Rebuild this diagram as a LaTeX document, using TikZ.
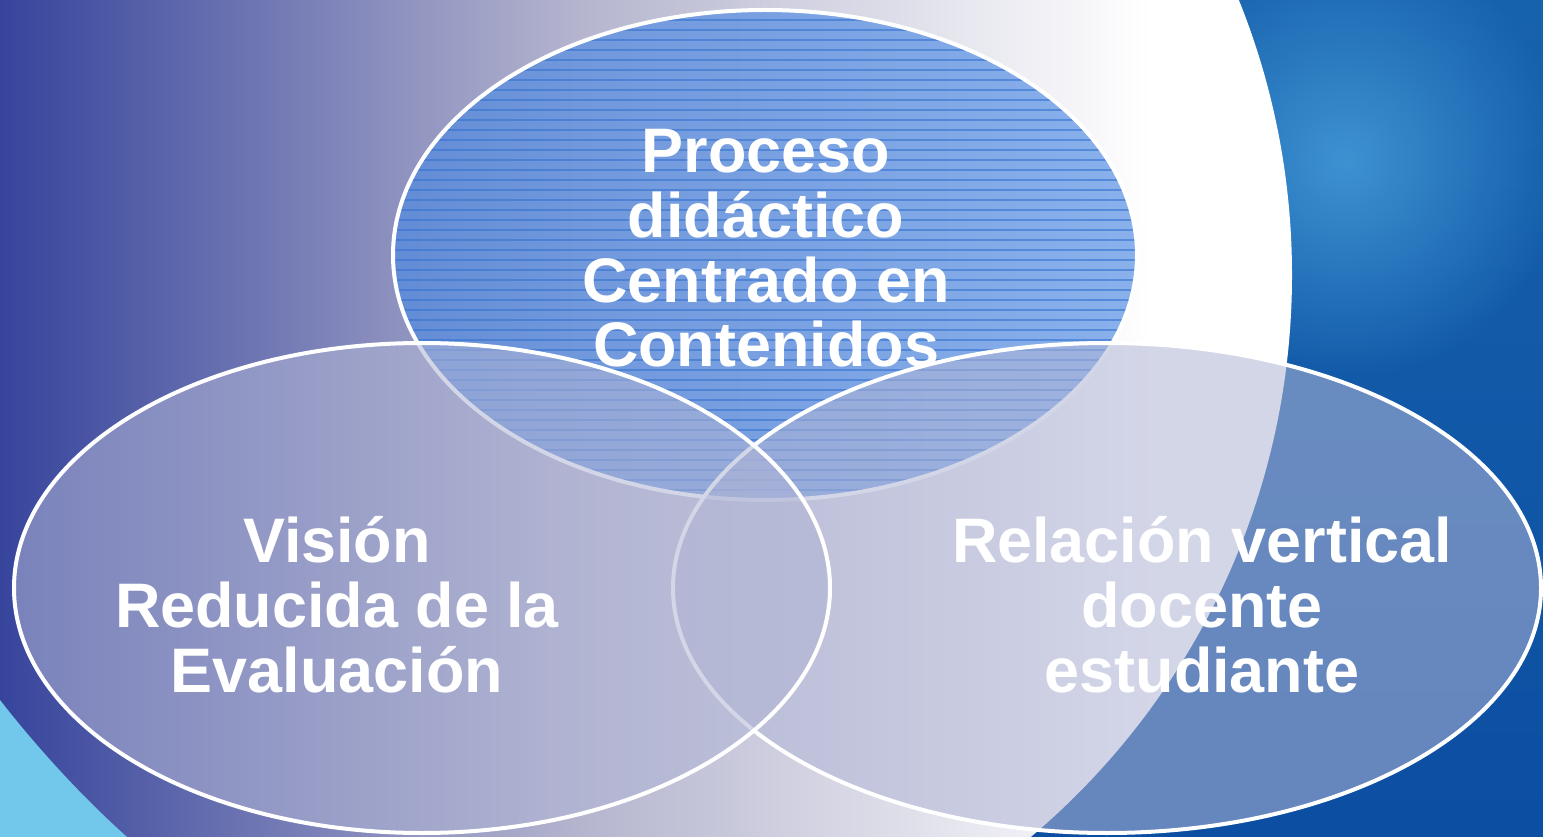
\documentclass[tikz,border=0pt]{standalone}
\usepackage{fontspec}
\setmainfont{Liberation Sans}
\usetikzlibrary{fadings}

\definecolor{fondoOscuro}{HTML}{36449C}
\definecolor{fondoMedio}{HTML}{B4B4CE}
\definecolor{azulFondo}{HTML}{1762AD}
\definecolor{azulProfundo}{HTML}{0C4EA2}
\definecolor{azulBrillo}{HTML}{3E92D2}
\definecolor{celeste}{HTML}{72C8EA}
\definecolor{relleno}{HTML}{B0B5D5}
\definecolor{rellenoAzul}{HTML}{4E8AE3}
\definecolor{rayaAzul}{HTML}{3472D0}

\tikzfading[name=brillo, inner color=transparent!0, outer color=transparent!100]

\begin{document}
\begin{tikzpicture}[x=0.1mm, y=-0.1mm]
    % --- estilos ---
    \tikzstyle{borde}=[draw=white, line width=0.4mm]
    \tikzstyle{conjunto}=[fill=relleno, fill opacity=0.55]
    \tikzstyle{raya}=[rayaAzul, line width=0.35pt, opacity=0.6]
    \tikzstyle{etiqueta}=[text=white, font=\bfseries\fontsize{17.9}{18.4}\selectfont, align=center, inner sep=0pt, anchor=north]

    \useasboundingbox (0,0) rectangle (1543,837);
    \clip (0,0) rectangle (1543,837);

    % ====== Fondo ======
    \shade[top color=azulFondo, bottom color=azulProfundo] (0,0) rectangle (1543,837);
    \fill[azulBrillo, path fading=brillo] (1345,160) circle (220);
    % gran circulo claro
    \begin{scope}
        \clip (557,275) circle (735);
        \shade[left color=fondoOscuro, right color=white, middle color=fondoMedio] (0,0) rectangle (1150,837);
        \fill[white] (1149,0) rectangle (1543,837);
    \end{scope}
    % esquina celeste
    \fill[celeste] (0,700) .. controls (35,745) and (80,795) .. (127,837) -- (0,837) -- cycle;

    % ====== Conjunto superior ======
    \fill[rellenoAzul, fill opacity=0.66] (765,255) ellipse [x radius=372, y radius=245];
    \begin{scope}
        \clip (765,255) ellipse [x radius=372, y radius=245];
        \foreach \y in {20,30,...,500}
            \draw[raya] (393,\y) -- (1137,\y);
    \end{scope}
    \draw[borde] (765,255) ellipse [x radius=372, y radius=245];
    \node[etiqueta] (proceso) at (766,129) {Proceso\\didáctico\\Centrado en\\Contenidos};

    % ====== Conjunto derecho ======
    \draw[conjunto, borde] (1107,588) ellipse [x radius=434, y radius=245];
    \node[etiqueta] (relacion) at (1202,516) {Relación vertical\\docente\\estudiante};

    % ====== Conjunto izquierdo ======
    \draw[conjunto, borde] (422,588) ellipse [x radius=408, y radius=245];
    \node[etiqueta] (vision) at (337,516) {Visión\\Reducida de la\\Evaluación};

\end{tikzpicture}
\end{document}
